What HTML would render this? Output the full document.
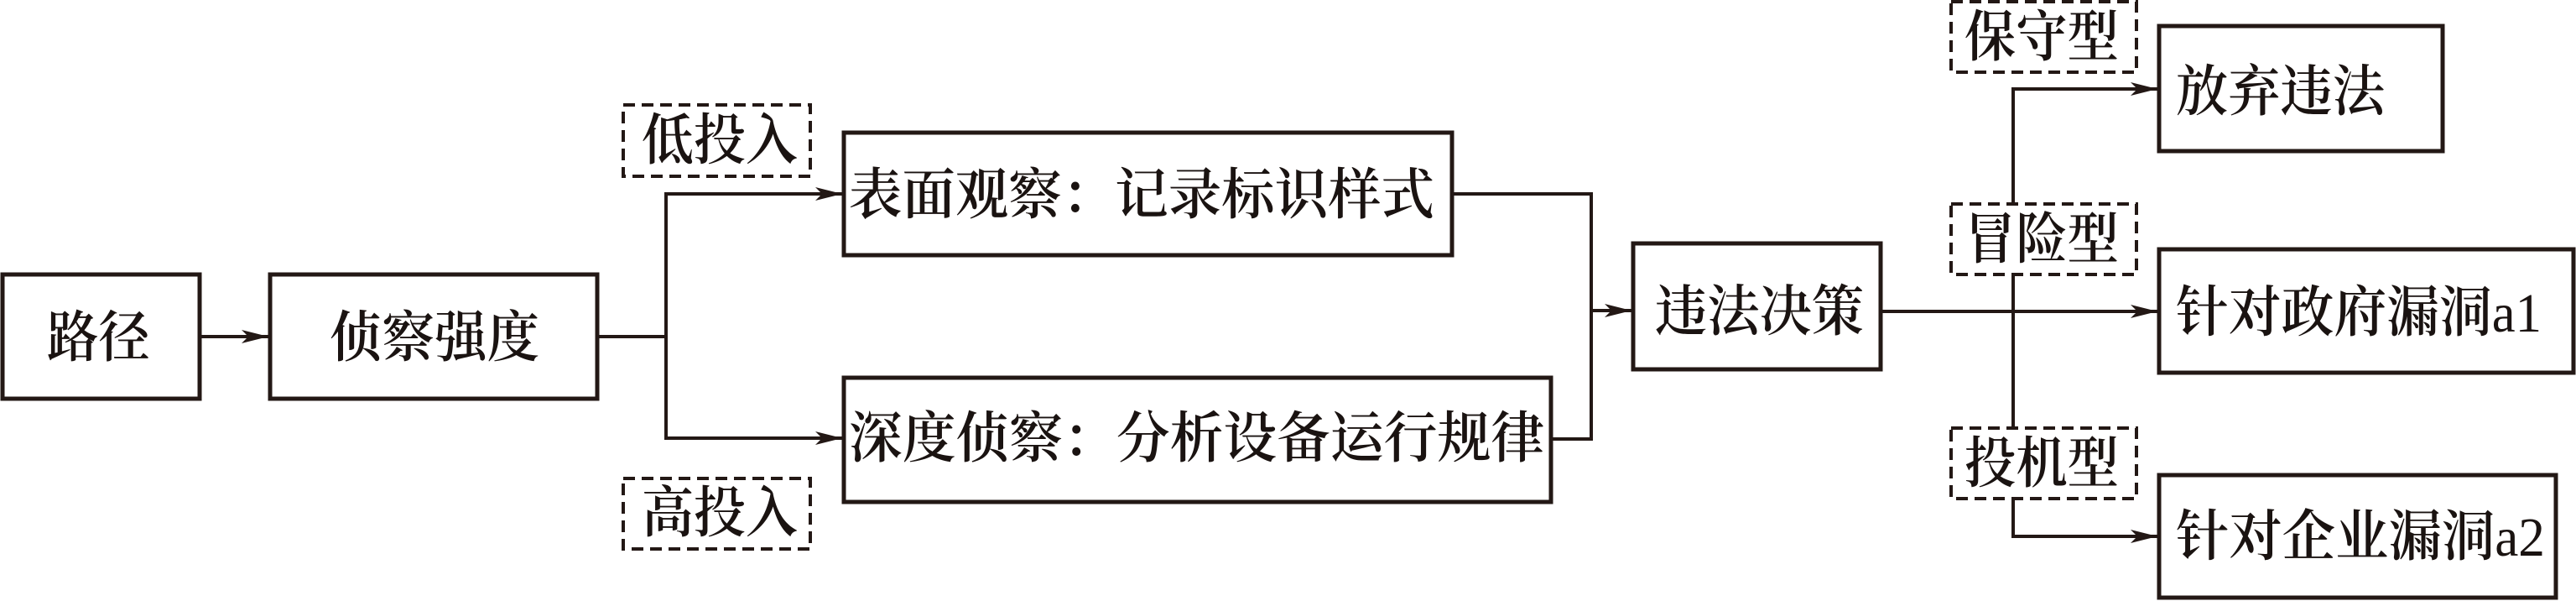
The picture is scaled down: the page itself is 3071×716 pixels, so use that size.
<!DOCTYPE html>
<html><head><meta charset="utf-8"><style>
html,body{margin:0;padding:0;background:#fff;}
svg{display:block;}
text{font-family:"Liberation Serif","Noto Serif CJK SC",serif;fill:#1a1311;font-size:66px;font-weight:600;}
tspan.n{font-weight:400;}
</style></head><body>
<svg width="3071" height="716" viewBox="0 0 3071 716" xmlns="http://www.w3.org/2000/svg">
<defs>
<marker id="ar" markerWidth="34" markerHeight="16" refX="32" refY="8" orient="auto" markerUnits="userSpaceOnUse">
<path d="M0,0 L32,8 L0,16 L8,8 Z" fill="#231815"/>
</marker>
</defs>
<g fill="none" stroke="#231815" stroke-width="5">
<rect x="3" y="327" width="235" height="148"/>
<rect x="322" y="327" width="390" height="148"/>
<rect x="1006" y="158" width="725" height="146"/>
<rect x="1006" y="450" width="843" height="148"/>
<rect x="1947" y="290" width="295" height="150"/>
<rect x="2574" y="31" width="338" height="149"/>
<rect x="2574" y="297" width="494" height="147"/>
<rect x="2574" y="566" width="473" height="146"/>
</g>
<g fill="none" stroke="#231815" stroke-width="4" stroke-dasharray="14,8">
<rect x="743" y="125" width="223" height="85"/>
<rect x="743" y="570" width="223" height="84"/>
<rect x="2326" y="2" width="221" height="84"/>
<rect x="2326" y="243" width="221" height="84"/>
<rect x="2326" y="510" width="221" height="84"/>
</g>
<g fill="none" stroke="#231815" stroke-width="4">
<line x1="238" y1="401" x2="320" y2="401" marker-end="url(#ar)"/>
<polyline points="712,401 794,401"/>
<polyline points="794,401 794,231 1004,231" marker-end="url(#ar)"/>
<polyline points="794,401 794,522 1004,522" marker-end="url(#ar)"/>
<polyline points="1731,231 1897,231 1897,523 1849,523"/>
<line x1="1897" y1="370" x2="1945" y2="370" marker-end="url(#ar)"/>
<line x1="2242" y1="371" x2="2572" y2="371" marker-end="url(#ar)"/>
<polyline points="2400,243 2400,106 2572,106" marker-end="url(#ar)"/>
<line x1="2400" y1="327" x2="2400" y2="510"/>
<polyline points="2400,594 2400,639 2572,639" marker-end="url(#ar)"/>
</g>
<g dominant-baseline="central">
<text x="56" y="403" textLength="123" lengthAdjust="spacingAndGlyphs">路径</text>
<text x="393" y="403" textLength="250" lengthAdjust="spacingAndGlyphs">侦察强度</text>
<text x="765" y="168" textLength="186" lengthAdjust="spacingAndGlyphs" font-size="60">低投入</text>
<text x="765" y="612" textLength="186" lengthAdjust="spacingAndGlyphs" font-size="60">高投入</text>
<text x="1012" y="233" textLength="698" lengthAdjust="spacingAndGlyphs">表面观察：记录标识样式</text>
<text x="1012" y="523" textLength="829" lengthAdjust="spacingAndGlyphs">深度侦察：分析设备运行规律</text>
<text x="1973" y="372" textLength="249" lengthAdjust="spacingAndGlyphs">违法决策</text>
<text x="2342" y="45" textLength="184" lengthAdjust="spacingAndGlyphs" font-size="60">保守型</text>
<text x="2342" y="286" textLength="184" lengthAdjust="spacingAndGlyphs" font-size="60">冒险型</text>
<text x="2342" y="553" textLength="184" lengthAdjust="spacingAndGlyphs" font-size="60">投机型</text>
<text x="2594" y="110" textLength="249" lengthAdjust="spacingAndGlyphs">放弃违法</text>
<text x="2594" y="373" textLength="436" lengthAdjust="spacingAndGlyphs">针对政府漏洞<tspan class="n">a1</tspan></text>
<text x="2594" y="640" textLength="440" lengthAdjust="spacingAndGlyphs">针对企业漏洞<tspan class="n">a2</tspan></text>
</g>
</svg>
</body></html>
